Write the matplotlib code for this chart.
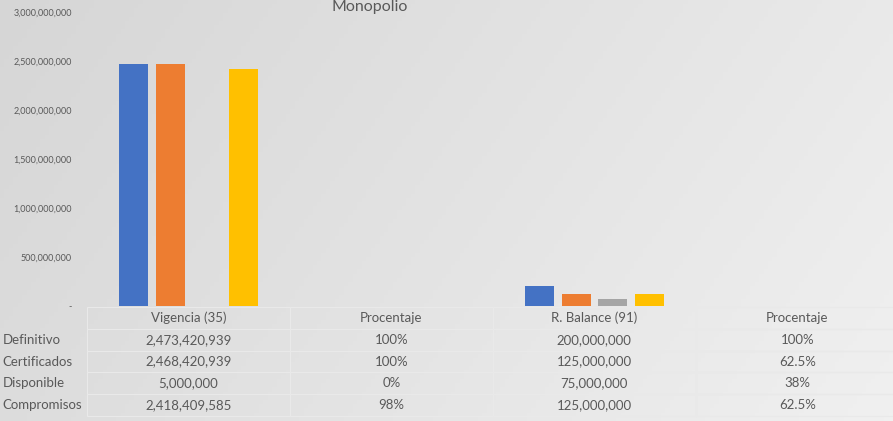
import matplotlib
matplotlib.use('Agg')
import matplotlib.pyplot as plt
import numpy as np
from matplotlib.ticker import FuncFormatter

# datos
categorias = ['Vigencia (35)', 'Procentaje', 'R. Balance (91)', 'Procentaje']
series = ['Definitivo', 'Certificados', 'Disponible', 'Compromisos']
definitivo = [2473420939, 1.0, 200000000, 1.0]
certificados = [2468420939, 1.0, 125000000, 0.625]
disponible = [5000000, 0.0, 75000000, 0.38]
compromisos = [2418409585, 0.98, 125000000, 0.625]
tabla_texto = [
    ['2,473,420,939', '100%', '200,000,000', '100%'],
    ['2,468,420,939', '100%', '125,000,000', '62.5%'],
    ['5,000,000', '0%', '75,000,000', '38%'],
    ['2,418,409,585', '98%', '125,000,000', '62.5%'],
]
colores = ['#4472c4', '#ed7d31', '#a5a5a5', '#ffc000']
gris = '#595959'

plt.rcParams['font.family'] = ['Lato', 'DejaVu Sans']

fig = plt.figure(figsize=(8.93, 4.21), dpi=100)

# fondo degradado
bg = fig.add_axes([0, 0, 1, 1], zorder=-10)
gx, gy = np.meshgrid(np.linspace(0, 1, 200), np.linspace(0, 1, 100))
grad = 0.75 * gx + 0.25 * gy
bg.imshow(grad, cmap=matplotlib.colors.LinearSegmentedColormap.from_list('g', ['#d6d6d6', '#f0f0f0']),
          aspect='auto', extent=[0, 1, 0, 1], origin='upper')
bg.axis('off')

ax = fig.add_axes([0.0974, 0.273, 0.909, 0.698])
ax.patch.set_alpha(0)

x = np.arange(len(categorias))
ancho = 0.143
paso = 0.18
valores = [definitivo, certificados, disponible, compromisos]
for i, (vals, c) in enumerate(zip(valores, colores)):
    ax.bar(x + (i - 1.5) * paso, vals, width=ancho, color=c, label=series[i])

ax.set_xlim(-0.5, 3.5)
ax.set_ylim(0, 3000000000)
ax.set_yticks(np.arange(0, 3000000001, 500000000))
ax.yaxis.set_major_formatter(FuncFormatter(lambda v, p: '-' if v == 0 else f'{int(v):,}'))
ax.tick_params(axis='y', length=0, pad=11, labelsize=6.5, labelcolor=gris)
ax.set_xticks([])
for s in ax.spines.values():
    s.set_visible(False)

# titulo (en la referencia queda pegado al borde superior)
fig.text(370 / 893, 0.999, 'Monopolio', ha='center', va='top', fontsize=11.5, color=gris)

# tabla de datos
celdas = [[''] + categorias] + [[series[i]] + fila for i, fila in enumerate(tabla_texto)]
anchos = [87, 203, 203, 203, 203]
anchos = [a / sum(anchos) for a in anchos]
tabla = ax.table(cellText=celdas, colWidths=anchos, cellLoc='center',
                 bbox=[-87 / 812, -110 / 294, 899 / 812, 109 / 294])
tabla.auto_set_font_size(False)
tabla.set_fontsize(9.5)
for (r, c), cel in tabla.get_celld().items():
    cel.set_facecolor('none')
    cel.set_edgecolor('#e9e9e9')
    cel.set_linewidth(0.8)
    cel.get_text().set_color(gris)
    if c == 0:
        cel.visible_edges = ''
        cel.get_text().set_ha('left')
        cel.PAD = 0.03
        cel._loc = 'left'

fig.savefig('out.png', dpi=100)
